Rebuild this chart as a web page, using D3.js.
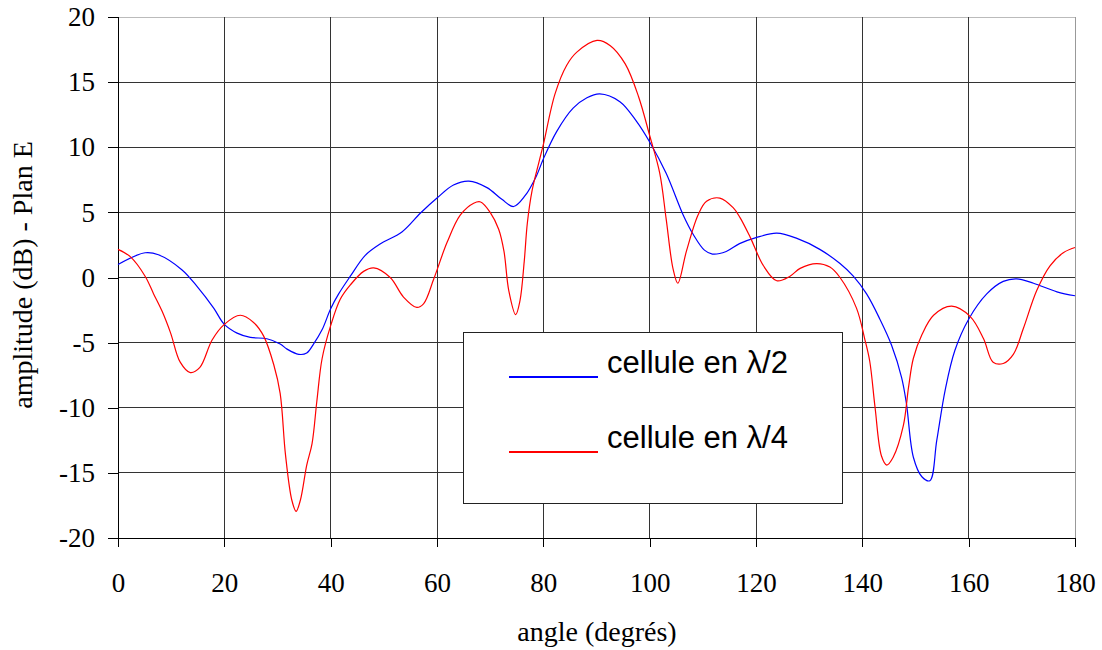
<!DOCTYPE html>
<html><head><meta charset="utf-8">
<script src="https://cdn.jsdelivr.net/npm/d3@7"></script>
<style>body{margin:0;background:#fff}svg{display:block}</style>
</head><body>
<svg id="c" width="1102" height="650"></svg>
<script>
const xTicks = [0,20,40,60,80,100,120,140,160,180];
const yTicks = [-20,-15,-10,-5,0,5,10,15,20];
const seriesNames = ["cellule en \u03bb/2", "cellule en \u03bb/4"];
const seriesColors = ["#0000ff", "#ff0000"];

const blueAngle = [0,5.1,7.6,12,14.9,18,20,22.4,24.9,28,30.5,31.8,34,35.5,36.8,38.4,40,41.5,43.7,46.5,49.3,53.4,56.9,60,63.1,66,69.4,72.2,74.4,76.6,78.7,80,82.5,85.6,88.2,90.6,94.4,97.5,100,103.1,106.3,108.2,110.3,111.8,114.4,116.9,120,123.9,127.7,132,135.8,138.3,140.8,143.3,145.5,147.4,148.3,149.6,151.2,152.7,154,155.6,157.4,160,163.4,166.5,169,172.2,176.6,180];
const blueDb = [1.0,1.9,1.75,0.6,-0.7,-2.35,-3.6,-4.27,-4.6,-4.7,-5.1,-5.5,-5.9,-5.8,-5.1,-4.0,-2.4,-1.26,0.1,1.7,2.57,3.5,4.95,6.1,7.1,7.4,6.9,6.0,5.45,6.3,7.8,9.1,11.2,13.0,13.8,14.1,13.5,12.0,10.4,8.0,4.8,3.3,2.1,1.8,2.0,2.6,3.06,3.4,3.0,2.16,1.07,0.1,-1.26,-3.2,-5.2,-7.7,-9.7,-13.8,-15.3,-15.6,-12.5,-8.6,-5.6,-3.2,-1.26,-0.3,-0.1,-0.44,-1.1,-1.4];

const redAngle = [0,2.3,5.1,6.7,8.3,9.9,11.7,13.6,15.4,17.7,20,23,25.5,27.4,29.3,30.5,31.5,32.7,33.5,34.3,35.5,36.5,37.4,38.4,40,41.8,43.7,46.2,48.1,51.2,53.7,56.2,57.5,59.4,61.9,64.4,66.9,68.2,70,71.6,72.6,73.5,74.8,75.6,76.4,77,77.9,79.2,80,82.2,84.4,86.3,90.1,92.6,95.4,97.9,100,101.9,103.1,104.4,105.3,106.9,109.1,110.7,113.2,115.7,117,118.9,121.4,123.9,126.4,128.3,131.4,133.9,135.8,138.9,140.5,141.4,142.4,143.6,144.6,145.8,147.7,148.7,149.6,151.2,153.4,156.8,160.3,162.8,164.6,166.5,168.4,170.3,172.8,175.3,177.8,180];
const redDb = [2.16,1.6,0.1,-1.26,-2.6,-4.27,-6.5,-7.3,-6.9,-4.8,-3.6,-2.9,-3.45,-4.5,-6.7,-8.9,-13.6,-17.1,-17.95,-17.1,-14.4,-12.75,-9.5,-6.2,-3.7,-1.67,-0.57,0.47,0.74,0,-1.5,-2.3,-2.0,-0.1,2.7,4.8,5.7,5.8,5.0,3.7,2.0,-1.0,-2.85,-1.8,1.2,4.2,6.7,8.9,10.2,14.1,16.3,17.3,18.2,17.8,16.4,13.9,10.9,8.0,4.5,0.66,-0.44,2.0,4.8,5.85,6.1,5.36,4.6,3.1,0.9,-0.25,0.1,0.7,1.07,0.8,0,-2.35,-4.8,-6.45,-10,-13.7,-14.4,-13.8,-11.4,-8.4,-6.2,-4.4,-2.9,-2.2,-3.0,-4.7,-6.5,-6.6,-5.9,-3.9,-1.0,0.9,1.9,2.3];

const svg = d3.select("#c");
const L = 118, R = 1075, T = 17, B = 538;
const x = d3.scaleLinear().domain([0,180]).range([L,R]);
const y = d3.scaleLinear().domain([-20,20]).range([B,T]);
const serif = "'Liberation Serif', 'Times New Roman', serif";
const fmt = d => String(d);

// grid
const g = svg.append("g").attr("shape-rendering","crispEdges");
g.selectAll("line.h").data(yTicks).join("line")
  .attr("x1",L).attr("x2",R).attr("y1",d=>y(d)).attr("y2",d=>y(d))
  .attr("stroke", d => d===20 ? "#bbb" : "#333").attr("stroke-width",1);
g.selectAll("line.v").data(xTicks).join("line")
  .attr("y1",T).attr("y2",B).attr("x1",d=>x(d)).attr("x2",d=>x(d))
  .attr("stroke", d => d===180 ? "#999" : "#333").attr("stroke-width",1);

// axes
const ax = svg.append("g").attr("transform",`translate(0,${B})`)
  .call(d3.axisBottom(x).tickValues(xTicks).tickSize(9).tickFormat(fmt));
const ay = svg.append("g").attr("transform",`translate(${L},0)`)
  .call(d3.axisLeft(y).tickValues(yTicks).tickSize(10).tickPadding(13).tickFormat(fmt));
[ax,ay].forEach(a=>{
  a.select(".domain").attr("stroke","#000").attr("shape-rendering","crispEdges");
  a.selectAll(".tick line").attr("stroke","#000").attr("shape-rendering","crispEdges");
  a.selectAll("text").attr("font-family",serif).attr("font-size",27).attr("fill","#000");
});
ax.selectAll("text").attr("y",45).attr("dy","0.35em");

// lines
const line = d3.line().x(d=>x(d[0])).y(d=>y(d[1])).curve(d3.curveCatmullRom.alpha(0.5));
svg.append("path").datum(blueAngle.map((a,i)=>[a,blueDb[i]]))
  .attr("d",line).attr("fill","none").attr("stroke",seriesColors[0]).attr("stroke-width",1.2);
svg.append("path").datum(redAngle.map((a,i)=>[a,redDb[i]]))
  .attr("d",line).attr("fill","none").attr("stroke",seriesColors[1]).attr("stroke-width",1.2);

// axis titles
svg.append("text").attr("x",597).attr("y",641).attr("text-anchor","middle")
  .attr("font-family",serif).attr("font-size",28).text("angle (degrés)");
svg.append("text").attr("transform","translate(32,275) rotate(-90)").attr("text-anchor","middle")
  .attr("font-family",serif).attr("font-size",28).text("amplitude (dB) - Plan E");

// legend
const lg = svg.append("g");
lg.append("rect").attr("x",463).attr("y",332).attr("width",379).attr("height",171)
  .attr("fill","#fff").attr("stroke","#222").attr("stroke-width",1).attr("shape-rendering","crispEdges");
const ly = [377, 452];
seriesNames.forEach((n,i)=>{
  lg.append("line").attr("x1",509).attr("x2",598).attr("y1",ly[i]).attr("y2",ly[i])
    .attr("stroke",seriesColors[i]).attr("stroke-width",2);
  lg.append("text").attr("x",607).attr("y",ly[i]-4)
    .attr("font-family","'Liberation Sans', Arial, sans-serif").attr("font-size",31).text(n);
});
</script>
</body></html>
